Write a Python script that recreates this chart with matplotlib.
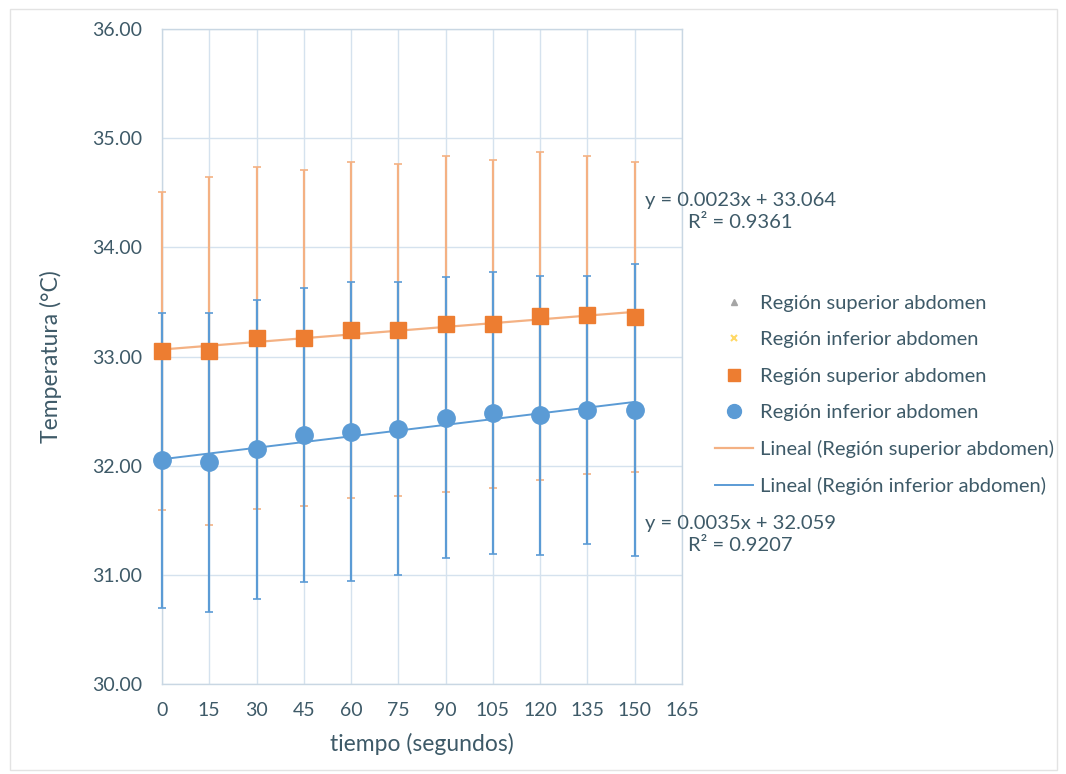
import numpy as np
import matplotlib
matplotlib.use("Agg")
import matplotlib.pyplot as plt
from matplotlib.patches import Rectangle

# tiempo (s) y temperatura media / desviación por región
tiempo = [0, 15, 30, 45, 60, 75, 90, 105, 120, 135, 150]
sup_media = [33.05, 33.05, 33.17, 33.17, 33.24, 33.24, 33.30, 33.30, 33.37, 33.38, 33.36]
sup_desv = [1.46, 1.59, 1.57, 1.54, 1.54, 1.52, 1.54, 1.50, 1.50, 1.46, 1.42]
inf_media = [32.05, 32.03, 32.15, 32.28, 32.31, 32.34, 32.44, 32.48, 32.46, 32.51, 32.51]
inf_desv = [1.35, 1.37, 1.37, 1.35, 1.37, 1.34, 1.29, 1.29, 1.28, 1.23, 1.34]

# ajustes lineales (pendiente, ordenada, R²)
sup_fit = (0.0023, 33.064, 0.9361)
inf_fit = (0.0035, 32.059, 0.9207)

xticks = list(range(0, 166, 15))
yticks = [30, 31, 32, 33, 34, 35, 36]

TXT = "#3E5A68"
GRID = "#D5E2EE"
ORANGE = "#ED7D31"
ORANGE_LT = "#F4B183"
BLUE = "#5B9BD5"

plt.rcParams["font.family"] = ["Lato", "DejaVu Sans"]

fig = plt.figure(figsize=(10.66, 7.74), dpi=100)
fig.patches.append(Rectangle((0.009, 0.005), 0.983, 0.984, transform=fig.transFigure,
                             fill=False, edgecolor="#E3E3E3", lw=1.0))
ax = fig.add_axes([162 / 1066, 1 - 684 / 774, 520 / 1066, 655 / 774])

# series vacías que solo aparecen en la leyenda
h_tri, = ax.plot([], [], "^", color="#A5A5A5", ms=6, ls="none", label="Región superior abdomen")
h_x, = ax.plot([], [], "x", color="#FFD966", ms=6, mew=1.5, ls="none", label="Región inferior abdomen")

eb1 = ax.errorbar(tiempo, sup_media, yerr=sup_desv, fmt="none", ecolor=ORANGE_LT,
                  elinewidth=1.6, capsize=3, capthick=1.2, zorder=3)
eb2 = ax.errorbar(tiempo, inf_media, yerr=inf_desv, fmt="none", ecolor=BLUE,
                  elinewidth=1.6, capsize=3, capthick=1.2, zorder=3.1)
for eb in (eb1, eb2):
    for art in eb.lines[1] + eb.lines[2]:
        art.set_clip_on(False)

xs = np.array([tiempo[0], tiempo[-1]])
h_lsup, = ax.plot(xs, sup_fit[0] * xs + sup_fit[1], color=ORANGE_LT, lw=1.6, zorder=4,
                  label="Lineal (Región superior abdomen)")
h_linf, = ax.plot(xs, inf_fit[0] * xs + inf_fit[1], color=BLUE, lw=1.4, zorder=4,
                  label="Lineal (Región inferior abdomen)")

h_sq, = ax.plot(tiempo, sup_media, "s", color=ORANGE, ms=11.5, ls="none", zorder=5,
                clip_on=False, label="Región superior abdomen")
h_ci, = ax.plot(tiempo, inf_media, "o", color=BLUE, ms=12.5, ls="none", zorder=5,
                clip_on=False, label="Región inferior abdomen")

ax.set_xlim(0, 165)
ax.set_ylim(30, 36)
ax.set_xticks(xticks)
ax.set_yticks(yticks)
ax.set_yticklabels([f"{v:.2f}" for v in yticks])
ax.grid(True, color=GRID, lw=1.0, zorder=0)
ax.set_axisbelow(True)
for s in ax.spines.values():
    s.set_color("#C9D7E3")
    s.set_linewidth(1.0)
ax.tick_params(length=0, labelsize=14, colors=TXT)
ax.tick_params(axis="y", pad=14)
ax.tick_params(axis="x", pad=13)
ax.set_xlabel("tiempo (segundos)", fontsize=16.5, color=TXT, labelpad=10)
ax.set_ylabel("Temperatura (°C)", fontsize=16.5, color=TXT, labelpad=22)

for (m, b, r2), yc in [(sup_fit, 34.33), (inf_fit, 31.37)]:
    ax.text(183.5, yc, f"y = {m:.4f}x + {b:.3f}\nR² = {r2:.4f}", ha="center", va="center",
            multialignment="center", fontsize=14.5, color=TXT, linespacing=1.4, clip_on=False)

handles = [h_tri, h_x, h_sq, h_ci, h_lsup, h_linf]
leg = fig.legend(handles, [h.get_label() for h in handles],
                 loc="upper left", bbox_to_anchor=(707 / 1066, 1 - 287 / 774),
                 frameon=False, fontsize=14.5, labelcolor=TXT, handlelength=1.9,
                 handletextpad=0.35, labelspacing=0.95, borderaxespad=0, markerscale=0.8)

fig.savefig("out.png", dpi=100)
